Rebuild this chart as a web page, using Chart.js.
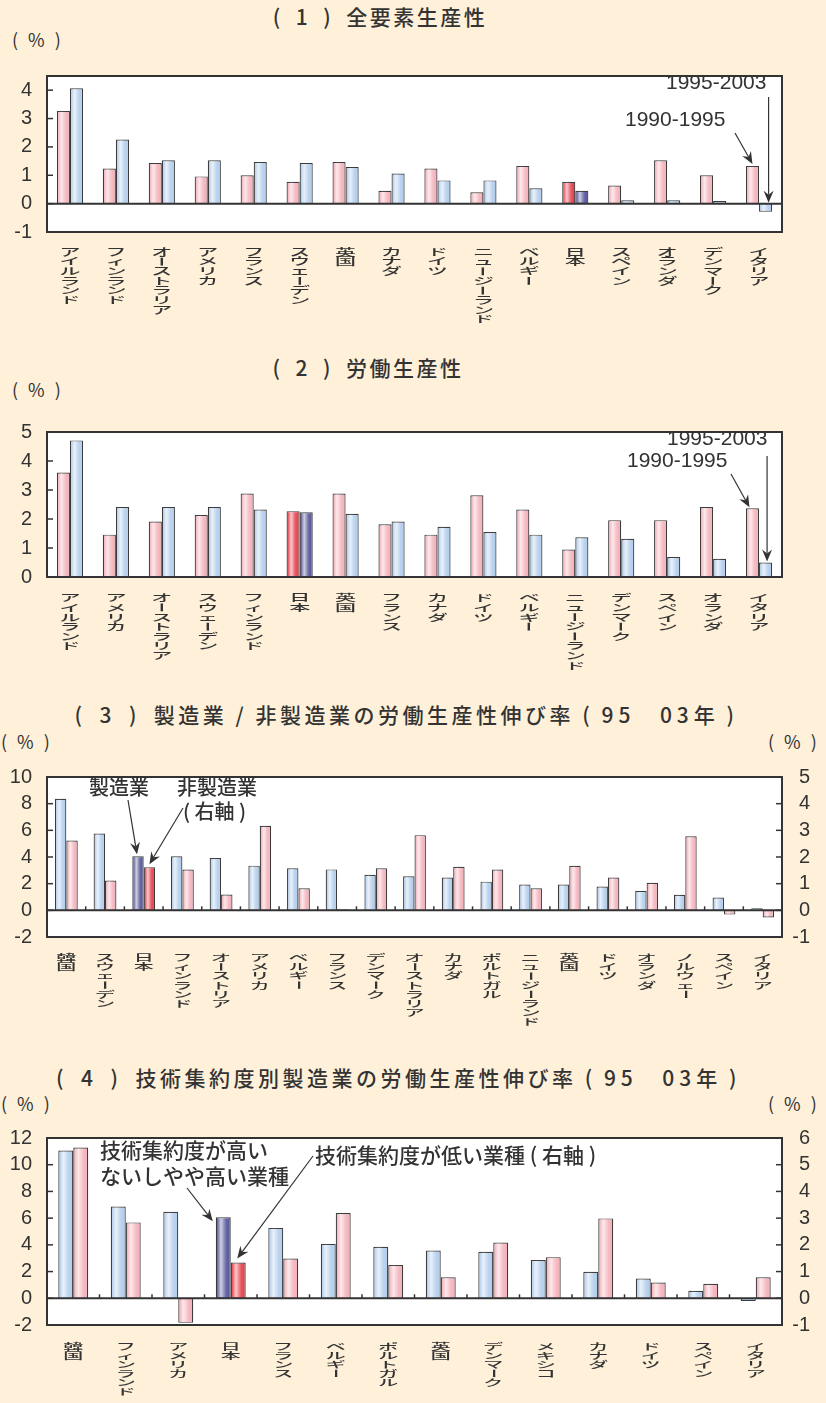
<!DOCTYPE html>
<html lang="ja">
<head>
<meta charset="utf-8">
<script src="https://cdn.jsdelivr.net/npm/chart.js@4/dist/chart.umd.min.js"></script>
<style>
html,body{margin:0;padding:0;}
body{width:826px;height:1403px;background:#FEF0D9;position:relative;overflow:hidden;font-family:"Noto Sans CJK JP",sans-serif;color:#333;}
.title{position:absolute;font-size:21px;font-weight:500;letter-spacing:2.5px;white-space:nowrap;transform:translateX(-50%);line-height:1;}
.title.long{letter-spacing:3.5px;}
.title .num{letter-spacing:5px;}
.unit{position:absolute;font-size:18px;letter-spacing:3px;white-space:nowrap;line-height:1;}
canvas{position:absolute;left:0;}
</style>
</head>
<body>
<div class="title" style="left:380px;top:6px;">(&#8194;1&#8194;)&#8194;全要素生産性</div>
<div class="unit" style="left:12px;top:30px;">( % )</div>
<canvas id="c1" width="826" height="283" style="top:49px;"></canvas>

<div class="title" style="left:368px;top:357px;">(&#8194;2&#8194;)&#8194;労働生産性</div>
<div class="unit" style="left:12px;top:380px;">( % )</div>
<canvas id="c2" width="826" height="272" style="top:405px;"></canvas>

<div class="title long" style="left:406px;top:704px;">(&#8194;3&#8194;)&#8194;製造業 / 非製造業の労働生産性伸び率 ( <span class="num">95</span>　<span class="num">03</span>年 )</div>
<div class="unit" style="left:1px;top:732px;">( % )</div>
<div class="unit" style="left:768px;top:732px;">( % )</div>
<canvas id="c3" width="826" height="292" style="top:750px;"></canvas>

<div class="title long" style="left:398px;top:1067px;">(&#8194;4&#8194;)&#8194;技術集約度別製造業の労働生産性伸び率 ( <span class="num">95</span>　<span class="num">03</span>年 )</div>
<div class="unit" style="left:1px;top:1094px;">( % )</div>
<div class="unit" style="left:768px;top:1094px;">( % )</div>
<canvas id="c4" width="826" height="292" style="top:1111px;"></canvas>

<script>
// (1) Total factor productivity growth, 1990-1995 vs 1995-2003
const tfpCountries = ['アイルランド','フィンランド','オーストラリア','アメリカ','フランス','スウェーデン','英国','カナダ','ドイツ','ニュージーランド','ベルギー','日本','スペイン','オランダ','デンマーク','イタリア'];
const tfp9095 = [3.27,1.24,1.43,0.96,1.00,0.77,1.47,0.45,1.24,0.40,1.33,0.77,0.64,1.53,1.00,1.33];
const tfp9503 = [4.07,2.26,1.53,1.53,1.47,1.43,1.29,1.06,0.82,0.82,0.54,0.45,0.12,0.12,0.09,-0.29];

// (2) Labour productivity growth
const lpCountries = ['アイルランド','アメリカ','オーストラリア','スウェーデン','フィンランド','日本','英国','フランス','カナダ','ドイツ','ベルギー','ニュージーランド','デンマーク','スペイン','オランダ','イタリア'];
const lp9095 = [3.60,1.46,1.91,2.14,2.88,2.27,2.88,1.82,1.46,2.82,2.33,0.95,1.96,1.96,2.41,2.37];
const lp9503 = [4.71,2.41,2.41,2.41,2.33,2.23,2.18,1.91,1.73,1.55,1.46,1.37,1.32,0.69,0.63,0.50];

// (3) Manufacturing (left axis) / non-manufacturing (right axis), 95-03
const sectorCountries = ['韓国','スウェーデン','日本','フィンランド','オーストリア','アメリカ','ベルギー','フランス','デンマーク','オーストラリア','カナダ','ポルトガル','ニュージーランド','英国','ドイツ','オランダ','ノルウェー','スペイン','イタリア'];
const mfgGrowth = [8.36,5.76,4.05,4.05,3.93,3.35,3.16,3.07,2.67,2.55,2.46,2.15,1.94,1.94,1.78,1.45,1.17,0.96,0.16];
const nonMfgGrowth = [2.62,1.12,1.62,1.53,0.59,3.17,0.83,0.04,1.58,2.82,1.63,1.53,0.83,1.67,1.23,1.03,2.78,-0.16,-0.27];

// (4) Manufacturing by technology intensity, 95-03
const techCountries = ['韓国','フィンランド','アメリカ','日本','フランス','ベルギー','ポルトガル','英国','デンマーク','メキシコ','カナダ','ドイツ','スペイン','イタリア'];
const highTechGrowth = [11.06,6.87,6.47,6.07,5.27,4.07,3.86,3.58,3.48,2.87,1.98,1.48,0.56,-0.21];
const lowTechGrowth = [5.64,2.84,-0.92,1.34,1.49,3.19,1.25,0.79,2.09,1.54,2.99,0.59,0.54,0.79];

const PINK = '#F4B1BA', BLUE = '#B2CDEC', RED = '#E5404B', NAVY = '#55559A';
const INK = '#333333';
const NUM_FONT = '"Liberation Sans", Arial, sans-serif';
const JP_FONT = '"Noto Sans CJK JP", sans-serif';

const fillFor = (cats, normal, hi) => cats.map(c => c === '日本' ? hi : normal);

function drawArrow(ctx, x1, y1, x2, y2) {
  const a = Math.atan2(y2 - y1, x2 - x1);
  const L = 12, W = 5, N = 8;
  const bx = x2 - L * Math.cos(a), by = y2 - L * Math.sin(a);
  const nx = x2 - N * Math.cos(a), ny = y2 - N * Math.sin(a);
  ctx.beginPath(); ctx.moveTo(x1, y1); ctx.lineTo(nx, ny); ctx.stroke();
  ctx.beginPath();
  ctx.moveTo(x2, y2);
  ctx.lineTo(bx + W * Math.sin(a), by - W * Math.cos(a));
  ctx.lineTo(nx, ny);
  ctx.lineTo(bx - W * Math.sin(a), by + W * Math.cos(a));
  ctx.closePath(); ctx.fill();
}

function drawVerticalLabel(ctx, text, cx, top, fs, step) {
  const sy = step / fs;
  ctx.font = '500 ' + fs + 'px ' + JP_FONT;
  ctx.textAlign = 'center';
  ctx.textBaseline = 'middle';
  [...text].forEach((ch, k) => {
    ctx.save();
    ctx.translate(cx, top + step * (k + 0.5));
    ctx.scale(1, sy);
    if (ch === 'ー') ctx.rotate(Math.PI / 2);
    ctx.fillText(ch, 0, 0);
    ctx.restore();
  });
}

// Frame, shading, inner ticks, vertical category names and call-outs
const decor = {
  id: 'decor',
  beforeDraw(chart) {
    const {ctx, chartArea: a} = chart;
    ctx.save(); ctx.fillStyle = '#ffffff';
    ctx.fillRect(a.left, a.top, a.right - a.left, a.bottom - a.top);
    ctx.restore();
  },
  afterDatasetsDraw(chart) {
    const ctx = chart.ctx;
    ctx.save();
    chart.data.datasets.forEach((ds, di) => {
      chart.getDatasetMeta(di).data.forEach(bar => {
        const p = bar.getProps(['x', 'y', 'base', 'width'], true);
        const l = p.x - p.width / 2 + 1, r = p.x + p.width / 2 - 1;
        const t = Math.min(p.y, p.base) + 1, b = Math.max(p.y, p.base) - 1;
        if (b - t < 1) return;
        const g = ctx.createLinearGradient(l, 0, r, 0);
        g.addColorStop(0, 'rgba(255,255,255,0)');
        g.addColorStop(0.32, 'rgba(255,255,255,0.72)');
        g.addColorStop(0.72, 'rgba(255,255,255,0.12)');
        g.addColorStop(1, 'rgba(255,255,255,0)');
        ctx.fillStyle = g;
        ctx.fillRect(l, t, r - l, b - t);
      });
    });
    ctx.restore();
  },
  afterDraw(chart, args, opts) {
    const {ctx, chartArea: a, scales} = chart;
    const y = scales.y, x = scales.x;
    ctx.save();
    ctx.strokeStyle = INK; ctx.fillStyle = INK;
    // zero line
    const y0 = y.getPixelForValue(0);
    ctx.lineWidth = 2;
    ctx.beginPath(); ctx.moveTo(a.left, y0); ctx.lineTo(a.right, y0); ctx.stroke();
    // inner tick marks
    ctx.lineWidth = 1.5;
    y.ticks.forEach(t => {
      const py = y.getPixelForValue(t.value);
      ctx.beginPath(); ctx.moveTo(a.left, py); ctx.lineTo(a.left + 6, py); ctx.stroke();
    });
    if (scales.y2) {
      scales.y2.ticks.forEach(t => {
        const py = scales.y2.getPixelForValue(t.value);
        ctx.beginPath(); ctx.moveTo(a.right - 6, py); ctx.lineTo(a.right, py); ctx.stroke();
      });
    }
    if (opts.catTicks) {
      for (let i = 1; i < x.ticks.length; i++) {
        const px = (x.getPixelForTick(i - 1) + x.getPixelForTick(i)) / 2;
        ctx.beginPath(); ctx.moveTo(px, y0); ctx.lineTo(px, y0 - 4); ctx.stroke();
      }
    }
    // frame
    ctx.lineWidth = 2;
    ctx.strokeRect(a.left, a.top, a.right - a.left, a.bottom - a.top);
    // category names, set vertically
    chart.data.labels.forEach((lab, i) => {
      drawVerticalLabel(ctx, lab, x.getPixelForTick(i), a.bottom + opts.labelGap, opts.labelSize, opts.labelStep);
    });
    // call-outs
    const top = opts.canvasTop;
    (opts.notes || []).forEach(n => {
      ctx.font = (n.jp ? '500 ' : '') + n.size + 'px ' + (n.jp ? JP_FONT : NUM_FONT);
      ctx.textAlign = 'left'; ctx.textBaseline = 'middle';
      ctx.fillText(n.text, n.x, n.y - top);
    });
    ctx.lineWidth = 1.2;
    (opts.arrows || []).forEach(ar => {
      const bar = chart.getDatasetMeta(ar.ds).data[ar.idx];
      const p = bar.getProps(['x', 'y', 'base', 'width'], true);
      const barTop = Math.min(p.y, p.base);
      let tx = ar.edge === 'left' ? p.x - p.width / 2 : p.x;
      tx += ar.dx || 0;
      const ty = barTop + (ar.dy || 0);
      const fx = ar.fx == null ? tx : ar.fx;
      drawArrow(ctx, fx, ar.fy - top, tx, ty);
    });
    ctx.restore();
  }
};

function yAxis(pos, min, max, step, width) {
  return {
    position: pos, min, max,
    ticks: {
      stepSize: step, includeBounds: false, autoSkip: false, color: INK,
      padding: pos === 'left' ? 15 : 10,
      crossAlign: pos === 'left' ? 'near' : 'far',
      font: {family: NUM_FONT, size: 20}
    },
    grid: {display: false, drawTicks: false},
    border: {display: false},
    afterFit: s => { s.width = width; }
  };
}

function makePanel(id, canvasTop, xHeight, labels, datasets, scalesY, decorOpts, catPct) {
  const scales = {
    x: {
      grid: {display: false, drawTicks: false}, border: {display: false},
      ticks: {display: false},
      afterFit: s => { s.height = xHeight; }
    },
    ...scalesY
  };
  return new Chart(document.getElementById(id), {
    type: 'bar',
    data: {labels, datasets},
    options: {
      responsive: false, animation: false, devicePixelRatio: 1,
      layout: {padding: {top: 16, right: scalesY.y2 ? 16 : 44, left: 0, bottom: 0}},
      datasets: {bar: {categoryPercentage: catPct, barPercentage: 1, borderWidth: 1.2, borderColor: '#3c3c3c'}},
      plugins: {
        legend: {display: false}, tooltip: {enabled: false},
        decor: Object.assign({canvasTop}, decorOpts)
      },
      scales
    },
    plugins: [decor]
  });
}

// (1)
makePanel('c1', 49, 100, tfpCountries, [
  {label: '1990-1995', data: tfp9095, backgroundColor: fillFor(tfpCountries, PINK, RED)},
  {label: '1995-2003', data: tfp9503, backgroundColor: fillFor(tfpCountries, BLUE, NAVY)}
], {y: yAxis('left', -1, 4.5, 1, 47)}, {
  labelGap: 15, labelSize: 21, labelStep: 9.7,
  notes: [
    {text: '1995-2003', x: 666, y: 83, size: 21},
    {text: '1990-1995', x: 625, y: 120, size: 21}
  ],
  arrows: [
    {ds: 1, idx: 15, dx: 3, dy: -1, fx: null, fy: 97},
    {ds: 0, idx: 15, dx: 0, dy: -2, fx: 735, fy: 133}
  ]
}, 0.57);

// (2)
makePanel('c2', 405, 100, lpCountries, [
  {label: '1990-1995', data: lp9095, backgroundColor: fillFor(lpCountries, PINK, RED)},
  {label: '1995-2003', data: lp9503, backgroundColor: fillFor(lpCountries, BLUE, NAVY)}
], {y: yAxis('left', 0, 5, 1, 47)}, {
  labelGap: 16, labelSize: 21, labelStep: 9.6,
  notes: [
    {text: '1995-2003', x: 667, y: 439, size: 21},
    {text: '1990-1995', x: 627, y: 461, size: 21}
  ],
  arrows: [
    {ds: 1, idx: 15, dx: 1.5, dy: -1, fx: null, fy: 456},
    {ds: 0, idx: 15, dx: -3, dy: -1, fx: 731, fy: 474}
  ]
}, 0.57);

// (3)
makePanel('c3', 750, 105, sectorCountries, [
  {label: '製造業', data: mfgGrowth, yAxisID: 'y', backgroundColor: fillFor(sectorCountries, BLUE, NAVY)},
  {label: '非製造業（右軸）', data: nonMfgGrowth, yAxisID: 'y2', backgroundColor: fillFor(sectorCountries, PINK, RED)}
], {y: yAxis('left', -2, 10, 2, 47), y2: yAxis('right', -1, 5, 1, 28)}, {
  catTicks: true, labelGap: 16, labelSize: 20, labelStep: 9.2,
  notes: [
    {text: '製造業', x: 89, y: 787, size: 20, jp: true},
    {text: '非製造業', x: 177, y: 787, size: 20, jp: true},
    {text: '( 右軸 )', x: 183, y: 811, size: 20, jp: true}
  ],
  arrows: [
    {ds: 0, idx: 2, dx: -1, dy: -2, fx: 128, fy: 800},
    {ds: 1, idx: 2, dx: 0, dy: -3, fx: 183, fy: 808}
  ]
}, 0.59);

// (4)
makePanel('c4', 1111, 78, techCountries, [
  {label: '技術集約度が高いないしやや高い業種', data: highTechGrowth, yAxisID: 'y', backgroundColor: fillFor(techCountries, BLUE, NAVY)},
  {label: '技術集約度が低い業種（右軸）', data: lowTechGrowth, yAxisID: 'y2', backgroundColor: fillFor(techCountries, PINK, RED)}
], {y: yAxis('left', -2, 12, 2, 47), y2: yAxis('right', -1, 6, 1, 28)}, {
  catTicks: true, labelGap: 17, labelSize: 20, labelStep: 9.0,
  notes: [
    {text: '技術集約度が高い', x: 100, y: 1150, size: 21, jp: true},
    {text: 'ないしやや高い業種', x: 100, y: 1176, size: 21, jp: true},
    {text: '技術集約度が低い業種 ( 右軸 )', x: 315, y: 1155, size: 21, jp: true}
  ],
  arrows: [
    {ds: 0, idx: 3, edge: 'left', dx: -3, dy: 4, fx: 187, fy: 1188},
    {ds: 1, idx: 3, dx: -1, dy: -4, fx: 313, fy: 1156}
  ]
}, 0.57);
</script>
</body>
</html>
